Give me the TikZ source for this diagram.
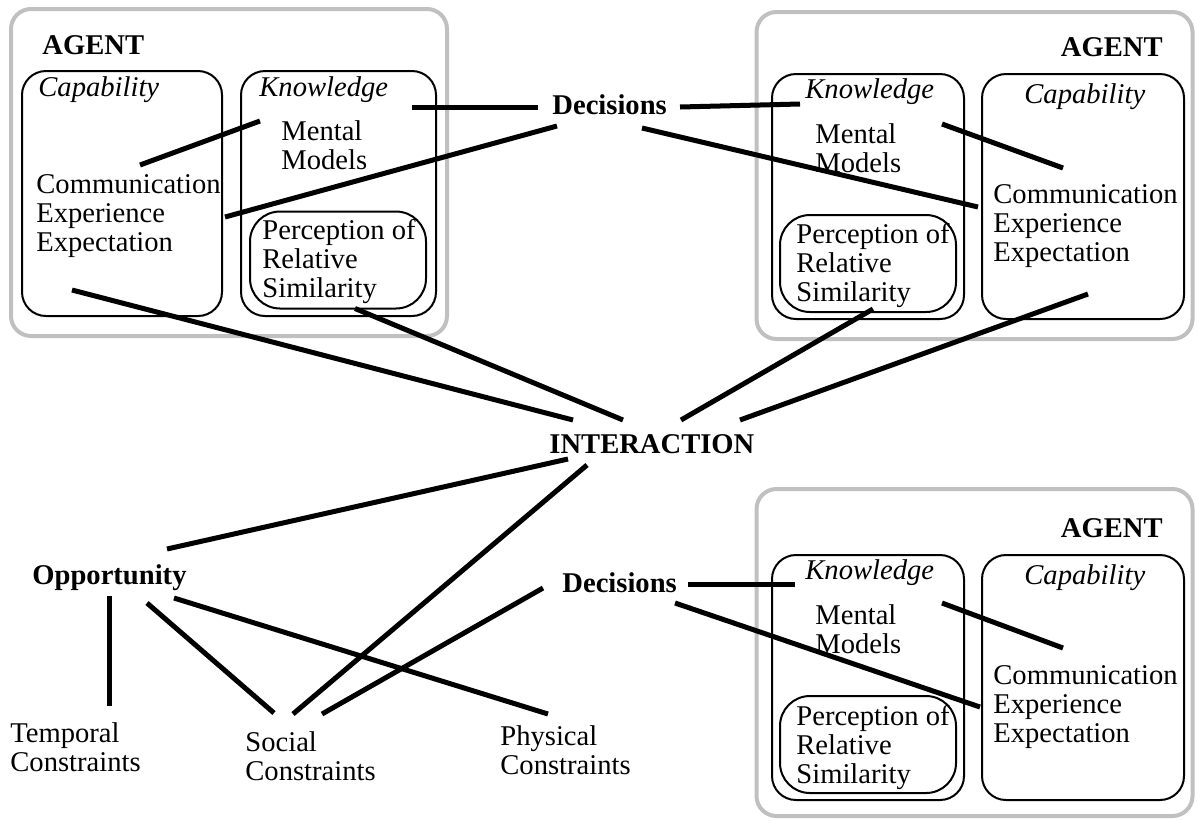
\documentclass[tikz,border=0pt]{standalone}
\usepackage{fontspec}
\setmainfont{Liberation Serif}
\usepackage{tikz}
\usetikzlibrary{calc}
\definecolor{frameGray}{RGB}{192,192,192}

\begin{document}
\begin{tikzpicture}[
        x=0.5pt, y=-0.5pt,
        font=\fontsize{14.3}{14.5}\selectfont,
        agentbox/.style={rectangle, draw=frameGray, line width=2pt, rounded corners=10pt, minimum width=218pt, minimum height=163.5pt},
        part/.style={rectangle, draw=black, line width=1pt, rounded corners=12pt, minimum width=#1, minimum height=122.5pt},
        percbox/.style={rectangle, draw=black, line width=1pt, rounded corners=15pt, minimum width=88pt, minimum height=48.5pt},
        txt/.style={inner sep=0pt, anchor=west, align=left},
        head/.style={txt, font=\fontsize{14.3}{14.5}\selectfont\bfseries},
        title/.style={txt, font=\fontsize{14.3}{14.5}\selectfont\itshape},
        link/.style={line width=2.5pt}
    ]
        \useasboundingbox (0,0) rectangle (1197,820);
        % agent boxes
        \node[agentbox] (agentboxTL) at (229,172.5) {};
        \node[part=100pt] (capboxTL) at (122,193.5) {};
        \node[part=97.5pt] (knowboxTL) at (338.5,193.5) {};
        \node[percbox] (percboxTL) at (338,260) {};
        \node[agentbox] (agentboxTR) at (974.5,175.5) {};
        \node[part=96pt] (knowboxTR) at (868,196.5) {};
        \node[part=101pt] (capboxTR) at (1083,196.5) {};
        \node[percbox] (percboxTR) at (868,263.5) {};
        \node[agentbox] (agentboxBR) at (974.5,652.5) {};
        \node[part=96pt] (knowboxBR) at (868,677.5) {};
        \node[part=101pt] (capboxBR) at (1083,677.5) {};
        \node[percbox] (percboxBR) at (868,744.5) {};
        % texts in the boxes
        \node[head] (agentTL) at (42,45) {AGENT};
        \node[title] (capTL) at (38,90) {Capability};
        \node[title] (knowTL) at (259,90) {Knowledge};
        \node[txt] (mentTL) at (281,145) {Mental\\Models};
        \node[txt] (commTL) at (36,216) {Communication\\Experience\\Expectation};
        \node[txt] (percTL) at (262,262) {Perception of\\Relative\\Similarity};
        \node[head, anchor=east] (agentTR) at (1163,47) {AGENT};
        \node[title] (knowTR) at (805,92) {Knowledge};
        \node[title] (capTR) at (1024,97) {Capability};
        \node[txt] (mentTR) at (815,148) {Mental\\Models};
        \node[txt] (commTR) at (993,226) {Communication\\Experience\\Expectation};
        \node[txt] (percTR) at (796,266) {Perception of\\Relative\\Similarity};
        \node[head, anchor=east] (agentBR) at (1163,528) {AGENT};
        \node[title] (knowBR) at (805,573) {Knowledge};
        \node[title] (capBR) at (1024,578) {Capability};
        \node[txt] (mentBR) at (815,629) {Mental\\Models};
        \node[txt] (commBR) at (993,707) {Communication\\Experience\\Expectation};
        \node[txt] (percBR) at (796,747) {Perception of\\Relative\\Similarity};
        % free texts
        \node[head] (dec1) at (552,105) {Decisions};
        \node[head] (dec2) at (562,583) {Decisions};
        \node[head] (inter) at (549,444) {INTERACTION};
        \node[head] (opp) at (32,578) {Opportunity};
        \node[txt] (temp) at (10,747) {Temporal\\Constraints};
        \node[txt] (soc) at (245,756) {Social\\Constraints};
        \node[txt] (phys) at (500,750) {Physical\\Constraints};
        % connectors, top left
        \draw[link] ($(dec1.west)+(-14,2)$) -- ($(knowTL.west)+(153,17)$);
        \draw[link] ($(mentTL.west)+(-21,-24)$) -- ($(commTL.west)+(104,-51)$);
        \draw[link] ($(commTL.west)+(189,1)$) -- ($(dec1.west)+(5,21)$);
        \draw[link] ($(capboxTL.south)+(-50,-27)$) -- ($(inter.west)+(24,-24)$);
        \draw[link] ($(percboxTL.south)+(17,-1)$) -- ($(inter.west)+(74,-24)$);
        % connectors, top right
        \draw[link] ($(dec1.west)+(128,2)$) -- ($(knowTR.west)+(-5,12)$);
        \draw[link] ($(dec1.west)+(90,23)$) -- ($(commTR.west)+(-15,-19)$);
        \draw[link] ($(mentTR.west)+(127,-24)$) -- ($(commTR.west)+(70,-58)$);
        \draw[link] ($(percboxTR.south)+(5,-4)$) -- ($(inter.west)+(132,-24)$);
        \draw[link] ($(capboxTR.south)+(5,-26)$) -- ($(inter.west)+(191,-24)$);
        % connectors, bottom
        \draw[link] ($(inter.west)+(19,15)$) -- ($(opp.west)+(135,-29)$);
        \draw[link] ($(inter.west)+(38,21)$) -- ($(soc.west)+(48,-42)$);
        \draw[link] ($(opp.west)+(77,18)$) -- ($(temp.west)+(99,-41)$);
        \draw[link] ($(opp.west)+(115,25)$) -- ($(soc.west)+(29,-43)$);
        \draw[link] ($(opp.west)+(142,20)$) -- ($(phys.west)+(48,-36)$);
        \draw[link] ($(dec2.west)+(-19,5)$) -- ($(soc.west)+(77,-42)$);
        \draw[link] ($(dec2.west)+(126,1)$) -- ($(knowBR.west)+(-10,11)$);
        \draw[link] ($(dec2.west)+(113,20)$) -- ($(commBR.west)+(-13,0)$);
        \draw[link] ($(mentBR.west)+(127,-26)$) -- ($(commBR.west)+(70,-59)$);
    \end{tikzpicture}
\end{document}
